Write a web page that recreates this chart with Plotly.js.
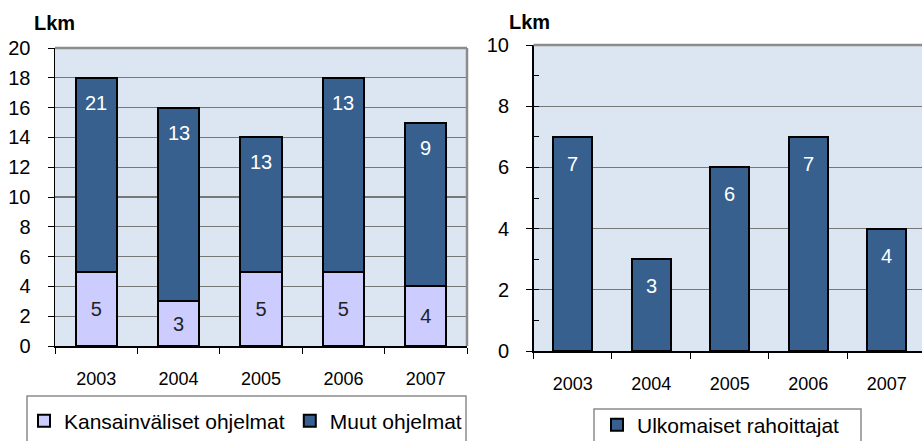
<!DOCTYPE html>
<html>
<head>
<meta charset="utf-8">
<script src="https://cdn.plot.ly/plotly-3.0.1.min.js"></script>
<style>html,body{margin:0;padding:0;background:#fff;}#chart{width:922px;height:441px;}</style>
</head>
<body>
<div id="chart"></div>
<script>
const years = ['2003', '2004', '2005', '2006', '2007'];
const kansainvaliset = [5, 3, 5, 5, 4];
const muut = [13, 13, 9, 13, 11];
const muutLabels = ['21', '13', '13', '13', '9'];
const ulkomaiset = [7, 3, 6, 7, 4];

const W = 922, H = 441;
const px = v => v / W;
const py = v => 1 - v / H;

const FONT = 'Liberation Sans, Arial, sans-serif';
const DARK = '#37608F';
const LIGHT = '#CCCCFF';
const PLOTBG = '#DCE6F2';
const GRID = '#777777';
const FRAME = '#8C8C8C';

const traces = [
  {type: 'bar', x: years, y: kansainvaliset, name: 'Kansainväliset ohjelmat',
   xaxis: 'x', yaxis: 'y', legend: 'legend',
   marker: {color: LIGHT, line: {color: '#000', width: 2}},
   text: kansainvaliset.map(String), textposition: 'inside', insidetextanchor: 'middle',
   textfont: {family: FONT, size: 20, color: '#222'}, hoverinfo: 'skip'},
  {type: 'bar', x: years, y: muut, name: 'Muut ohjelmat',
   xaxis: 'x', yaxis: 'y', legend: 'legend',
   marker: {color: DARK, line: {color: '#000', width: 2}},
   textposition: 'none', hoverinfo: 'skip'},
  {type: 'bar', x: years, y: ulkomaiset, name: 'Ulkomaiset rahoittajat',
   xaxis: 'x2', yaxis: 'y2', legend: 'legend2',
   marker: {color: DARK, line: {color: '#000', width: 2}},
   textposition: 'none', hoverinfo: 'skip'}
];

const annotations = [];
years.forEach((yr, i) => {
  annotations.push({x: i, y: kansainvaliset[i] + muut[i], xref: 'x', yref: 'y',
    text: muutLabels[i], showarrow: false, yanchor: 'middle', yshift: -25,
    font: {family: FONT, size: 20, color: '#ffffff'}});
  annotations.push({x: i, y: ulkomaiset[i], xref: 'x2', yref: 'y2',
    text: String(ulkomaiset[i]), showarrow: false, yanchor: 'middle', yshift: -27,
    font: {family: FONT, size: 20, color: '#ffffff'}});
});
annotations.push({xref: 'paper', yref: 'paper', x: px(32), y: py(23), xanchor: 'left', yanchor: 'middle',
  text: '<b>Lkm</b>', showarrow: false, font: {family: FONT, size: 20, color: '#000'}});
annotations.push({xref: 'paper', yref: 'paper', x: px(507), y: py(22), xanchor: 'left', yanchor: 'middle',
  text: '<b>Lkm</b>', showarrow: false, font: {family: FONT, size: 20, color: '#000'}});

const shapes = [
  {type: 'line', xref: 'x domain', yref: 'y domain', x0: 0, x1: 1, y0: 1, y1: 1, line: {color: FRAME, width: 2.5}},
  {type: 'line', xref: 'x domain', yref: 'y domain', x0: 1, x1: 1, y0: 0, y1: 1, line: {color: FRAME, width: 2.5}},
  {type: 'line', xref: 'x2 domain', yref: 'y2 domain', x0: 0, x1: 1, y0: 1, y1: 1, line: {color: FRAME, width: 2.5}},
  {type: 'rect', xref: 'paper', yref: 'paper', x0: px(27), x1: px(466), y0: py(396), y1: py(460), line: {color: FRAME, width: 1.5}},
  {type: 'rect', xref: 'paper', yref: 'paper', x0: px(594), x1: px(861), y0: py(409), y1: py(460), line: {color: FRAME, width: 1.5}}
];

const xCommon = {type: 'category', showline: true, linecolor: '#000', linewidth: 1.5,
  ticks: 'outside', tickson: 'boundaries', ticklen: 6, tickcolor: '#000', tickwidth: 1,
  showgrid: false, zeroline: false, fixedrange: true,
  tickfont: {family: FONT, size: 18, color: '#000'}, ticklabelstandoff: 16};
const yCommon = {showline: true, linecolor: '#000', linewidth: 1.5,
  ticks: 'outside', ticklen: 6, tickcolor: '#000', tickwidth: 1,
  showgrid: true, gridcolor: GRID, gridwidth: 1.2, zeroline: false, fixedrange: true,
  tickfont: {family: FONT, size: 20, color: '#000'}, ticklabelstandoff: 13};

const layout = {
  width: W, height: H,
  margin: {l: 0, r: 0, t: 0, b: 0, autoexpand: false},
  paper_bgcolor: '#fff', plot_bgcolor: PLOTBG,
  barmode: 'stack', bargap: 0.5,
  showlegend: true,
  xaxis: Object.assign({}, xCommon, {domain: [px(55), px(467)], range: [-0.5, 4.5], anchor: 'y'}),
  yaxis: Object.assign({}, yCommon, {domain: [py(346), py(48)], range: [0, 20], dtick: 2, tick0: 0, anchor: 'x'}),
  xaxis2: Object.assign({}, xCommon, {domain: [px(533.5), 1], range: [-0.5, 4.45], anchor: 'y2'}),
  yaxis2: Object.assign({}, yCommon, {domain: [py(351), py(45)], range: [0, 10], dtick: 2, tick0: 0, anchor: 'x2',
    minor: {dtick: 1, ticks: 'inside', ticklen: 5, tickcolor: '#000', showgrid: false}}),
  legend: {orientation: 'h', x: px(24), y: py(421), xanchor: 'left', yanchor: 'middle',
    traceorder: 'normal', bgcolor: 'rgba(0,0,0,0)', borderwidth: 0,
    font: {family: FONT, size: 21, color: '#000'}},
  legend2: {orientation: 'h', x: px(597), y: py(425), xanchor: 'left', yanchor: 'middle',
    bgcolor: 'rgba(0,0,0,0)', borderwidth: 0,
    font: {family: FONT, size: 21, color: '#000'}},
  annotations: annotations,
  shapes: shapes
};

Plotly.newPlot('chart', traces, layout, {displayModeBar: false, staticPlot: true})
  .catch(e => document.body.insertAdjacentText('beforeend', 'ERR ' + e));
</script>
</body>
</html>
